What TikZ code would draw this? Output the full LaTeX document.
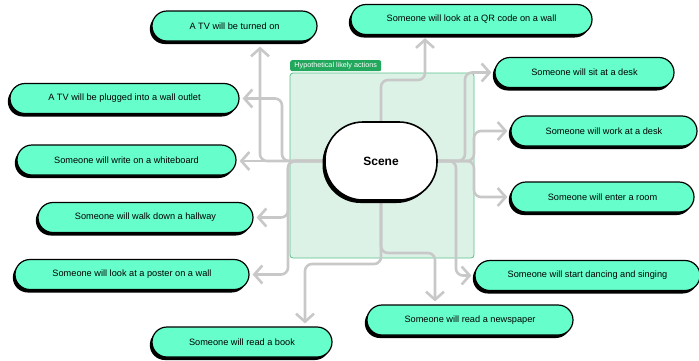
\documentclass[tikz,border=0pt]{standalone}
\usepackage{fontspec}
\setmainfont{Liberation Sans}
\usetikzlibrary{arrows.meta,shadows}
\definecolor{pillfill}{HTML}{66FFCC}
\definecolor{groupfill}{HTML}{DCF2E6}
\definecolor{groupline}{HTML}{5CC08A}
\definecolor{tabfill}{HTML}{21A85C}
\definecolor{wire}{HTML}{C8C8C8}
\pgfdeclarelayer{frame}
\pgfdeclarelayer{wires}
\pgfsetlayers{frame,wires,main}
\tikzset{
  pill/.style={draw=black, line width=1.2pt, fill=pillfill, rounded corners=15pt,
    minimum height=30pt, inner sep=0pt, font=\fontsize{9.2}{11}\selectfont,
    drop shadow={shadow xshift=-2.2pt, shadow yshift=-3pt, fill=black, opacity=1}},
  hub/.style={draw=black, line width=1.6pt, fill=white, rounded corners=38pt,
    minimum width=112pt, minimum height=78pt, inner sep=0pt,
    font=\fontsize{12}{14}\selectfont\bfseries,
    drop shadow={shadow xshift=-2.5pt, shadow yshift=-3pt, fill=black, opacity=1}},
  conn/.style={draw=wire, line width=2.6pt, rounded corners=7pt, line cap=round,
    -{Straight Barb[length=8pt,width=18pt,line width=2.6pt]}, shorten >=3pt},
}
\begin{document}
\begin{tikzpicture}[x=1pt,y=-1pt]
\useasboundingbox (0,0) rectangle (699,360);

% group frame and its tab
\begin{pgfonlayer}{frame}
\draw[groupline, fill=groupfill, line width=0.8pt, rounded corners=3pt]
  (290,73) rectangle (474,258);
\node[fill=tabfill, rounded corners=2pt, inner sep=0pt, minimum width=91pt,
  minimum height=11pt, text=white, font=\fontsize{7.2}{8}\selectfont, anchor=north west]
  (tab) at (290,60) {Hypothetical likely actions};
\end{pgfonlayer}

% central node
\node[hub] (scene) at (381,161) {Scene};

% outcome nodes
\node[pill, minimum width=165pt] (tvon)   at (234.5,26)  {A TV will be turned on};
\node[pill, minimum width=229pt] (tvplug) at (124.5,98.5) {A TV will be plugged into a wall outlet};
\node[pill, minimum width=219pt] (wb)     at (126.5,160) {Someone will write on a whiteboard};
\node[pill, minimum width=215pt] (hall)   at (145.5,217.5) {Someone will walk down a hallway};
\node[pill, minimum width=234pt] (poster) at (132,274.5) {Someone will look at a poster on a wall};
\node[pill, minimum width=180pt] (book)   at (242,342)   {Someone will read a book};
\node[pill, minimum width=241pt] (qr)     at (471.5,19.5) {Someone will look at a QR code on a wall};
\node[pill, minimum width=179pt] (sit)    at (584.5,72.5) {Someone will sit at a desk};
\node[pill, minimum width=186pt] (work)   at (604,131)   {Someone will work at a desk};
\node[pill, minimum width=183pt] (enter)  at (602.5,197) {Someone will enter a room};
\node[pill, minimum width=225pt] (dance)  at (587.5,275.5) {Someone will start dancing and singing};
\node[pill, minimum width=206pt] (news)   at (470,320)   {Someone will read a newspaper};

% bend points of the connectors
\coordinate (kTV)   at (260,0);
\coordinate (kPl)   at (282,0);
\coordinate (kHw)   at (288,0);
\coordinate (kBook) at (305,264);
\coordinate (kNews) at (435,253);
\coordinate (kQR)   at (425,80);
\coordinate (kSit)  at (465,0);
\coordinate (kRt)   at (474,0);
\coordinate (kDn)   at (456,0);

% connectors, kept beneath the nodes
\begin{pgfonlayer}{wires}
\draw[conn, shorten >=5pt] (scene.west) -| (tvon.south -| kTV);
\draw[conn] (scene.west) -| (kPl |- tvplug.east) -- (tvplug.east);
\draw[conn] (scene.west) -- (scene.west -| wb.east);
\draw[conn] (scene.west) -| (kHw |- hall.east) -- (hall.east);
\draw[conn] (scene.west) -| (kHw |- poster.east) -- (poster.east);
\draw[conn] (scene.south) |- (kBook) -- (kBook |- book.north);
\draw[conn] (scene.south) |- (kNews) -- (kNews |- news.north);
\draw[conn] (scene.north) |- (kQR) -- (kQR |- qr.south);
\draw[conn] (scene.east) -| (kSit |- sit.west) -- (sit.west);
\draw[conn] (scene.east) -| (kRt |- work.west) -- (work.west);
\draw[conn] (scene.east) -| (kRt |- enter.west) -- (enter.west);
\draw[conn] (scene.east) -| (kDn |- dance.west) -- (dance.west);
\end{pgfonlayer}
\end{tikzpicture}
\end{document}
